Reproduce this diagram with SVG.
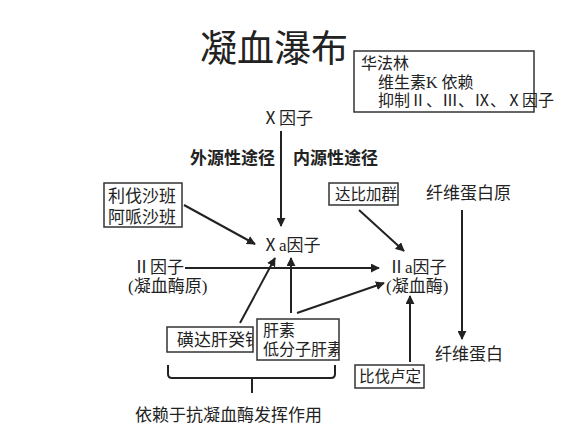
<svg xmlns="http://www.w3.org/2000/svg" width="584" height="438" viewBox="0 0 584 438">
<style>
text{font-family:'Liberation Serif','Noto Sans CJK SC',serif;fill:#222;font-size:17px}
.b{font-weight:bold}
.t{font-size:37px}
.s{font-size:16px}
.m{font-size:15.5px}
.box{fill:#fff;stroke:#333;stroke-width:1.5}
.ln{stroke:#222;stroke-width:2;fill:none}
</style>
<defs>
<marker id="ah" viewBox="0 0 10 10" refX="9" refY="5" markerWidth="9" markerHeight="9" markerUnits="userSpaceOnUse" orient="auto">
<path d="M0,0 L10,5 L0,10 z" fill="#222"/>
</marker>
<clipPath id="c1"><rect x="167" y="327" width="86" height="25"/></clipPath>
<clipPath id="c2"><rect x="257" y="319" width="82" height="41"/></clipPath>
</defs>
<rect width="584" height="438" fill="#fff"/>
<text id="title" class="t" x="200" y="62">凝血瀑布</text>
<g id="warfarin">
<rect class="box" x="354" y="51" width="180" height="61"/>
<text class="s" x="361" y="69">华法林</text>
<text class="s" x="378" y="88">维生素K 依赖</text>
<text class="s" x="378" y="106">抑制Ⅱ、Ⅲ、Ⅸ、Ⅹ因子</text>
</g>
<g id="fx"><text x="262" y="124">Ⅹ因子</text></g>
<g id="paths">
<text class="b" x="190" y="164">外源性途径</text>
<text class="b" x="293" y="164">内源性途径</text>
</g>
<g id="riva">
<rect class="box" x="104" y="183" width="78" height="44"/>
<text x="108" y="202">利伐沙班</text>
<text x="108" y="223">阿哌沙班</text>
</g>
<g id="fxa"><text x="262" y="251">Ⅹa因子</text></g>
<g id="f2">
<text x="133" y="273">Ⅱ因子</text>
<text x="128" y="292">(凝血酶原)</text>
</g>
<g id="dabi">
<rect class="box" x="329" y="183" width="69" height="22"/>
<text class="m" x="335" y="200">达比加群</text>
</g>
<g id="f2a">
<text x="388" y="273">Ⅱa因子</text>
<text x="386" y="292">(凝血酶)</text>
</g>
<g id="fibrinogen"><text x="426" y="199">纤维蛋白原</text></g>
<g id="fibrin"><text x="435" y="360">纤维蛋白</text></g>
<g id="biva">
<rect class="box" x="355" y="365" width="69" height="23"/>
<text class="m" x="359" y="382">比伐卢定</text>
</g>
<g id="fonda">
<rect class="box" x="167" y="327" width="86" height="25"/>
<text x="177" y="346" clip-path="url(#c1)">磺达肝癸钠</text>
</g>
<g id="heparin">
<rect class="box" x="257" y="319" width="82" height="41"/>
<text class="s" x="263" y="336">肝素</text>
<text class="s" x="263" y="355" clip-path="url(#c2)">低分子肝素</text>
</g>
<g id="connectors">
<line class="ln" x1="281" y1="131" x2="281" y2="226" marker-end="url(#ah)"/>
<line class="ln" x1="184" y1="205" x2="255" y2="244" marker-end="url(#ah)"/>
<line class="ln" x1="185" y1="268" x2="379" y2="268" marker-end="url(#ah)"/>
<line class="ln" x1="359" y1="210" x2="404" y2="251" marker-end="url(#ah)"/>
<line class="ln" x1="462" y1="210" x2="462" y2="339" marker-end="url(#ah)"/>
<line class="ln" x1="410" y1="362" x2="410" y2="296" marker-end="url(#ah)"/>
<line class="ln" x1="297" y1="313" x2="384" y2="283" marker-end="url(#ah)"/>
<line class="ln" x1="291" y1="313" x2="291" y2="258" marker-end="url(#ah)"/>
<line class="ln" x1="240" y1="323" x2="275" y2="258" marker-end="url(#ah)"/>
</g>
<g id="brace">
<path class="ln" stroke-width="1.5" d="M168,365 V374 Q168,378 172,378 H331 Q335,378 335,374 V365 M252,378 V393"/>
</g>
<g id="note"><text x="135" y="421">依赖于抗凝血酶发挥作用</text></g>
</svg>
